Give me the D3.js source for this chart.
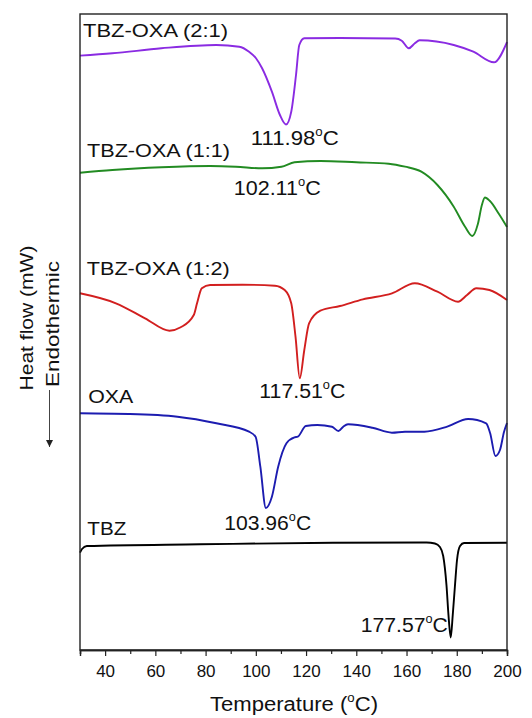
<!DOCTYPE html>
<html><head><meta charset="utf-8">
<script src="https://cdn.jsdelivr.net/npm/d3@7/dist/d3.min.js"></script>
<style>body{margin:0;background:#fff}svg{display:block}text{font-family:"Liberation Sans",Arial,sans-serif;fill:#111}</style>
</head><body><svg id="c" width="532" height="718"></svg>
<script>
// Data: temperature (°C) and heat flow (arbitrary units, stacked offsets)
const seriesNames = ["TBZ-OXA (2:1)", "TBZ-OXA (1:1)", "TBZ-OXA (1:2)", "OXA", "TBZ"];
const peakLabels = ["111.98", "102.11", "117.51", "103.96", "177.57"];
const xTicks = [40, 60, 80, 100, 120, 140, 160, 180, 200];

const tbzOxa21 = [[30,59.44],[42.9,59.67],[62.4,60.17],[84.3,60.5],[93.4,60.33],[97.3,59.83],[100,59.2],[102.5,58.17],[106.4,55.83],[109.6,53.5],[112.0,52.55],[114.1,53.83],[116.0,57.5],[117.3,60.5],[119.3,61.17],[133.5,61.2],[155.5,61.15],[158.1,60.93],[160.9,60.17],[163.3,60.67],[165.2,60.97],[178.8,60.5],[186.6,59.83],[194.8,58.77],[200,60.8]];
const tbzOxa11 = [[30,47.73],[42.9,48.0],[62.4,48.27],[81.8,48.4],[92.1,48.33],[102.5,48.17],[110.2,48.33],[115.4,48.77],[125.7,48.9],[140,48.77],[152.9,48.63],[159.4,48.33],[165.9,47.83],[172.3,46.5],[178.8,44.33],[183.3,42.33],[186.2,41.4],[188.4,42.6],[190,44.5],[191.2,45.25],[193.2,44.9],[196.8,43.6],[200,42.3]];
const tbzOxa12 = [[30,35.67],[44.3,34.67],[55.9,33.17],[65.6,31.93],[70.1,32.27],[75.3,33.5],[76.6,34.67],[78.5,36.17],[81.8,36.5],[94.7,36.53],[107.6,36.43],[111.5,36.0],[114.1,34.67],[115.8,31.33],[117.5,27.17],[119.3,30.0],[121.2,32.67],[125.7,33.93],[133.5,34.4],[142.6,35.07],[154.2,35.67],[163.3,36.67],[172.3,35.83],[180.5,34.83],[184.1,35.5],[187.8,36.17],[193,36.0],[200,35.0]];
const oxa = [[30,23.67],[49.4,23.6],[68.8,23.33],[84.3,22.67],[97.3,21.83],[99.9,21.33],[101.8,18.33],[104.0,14.2],[106.4,15.33],[108.9,18.33],[112.2,20.67],[115.4,21.27],[116.7,21.33],[119.9,22.4],[124.5,22.5],[130.3,22.33],[132.9,21.9],[134.8,22.33],[136.7,22.57],[146.4,22.23],[154.2,21.73],[159.4,21.83],[167.1,21.83],[176.2,22.33],[184.5,23.1],[191.7,22.67],[193.3,21.67],[195.4,19.4],[197.2,20.0],[198.8,21.8],[200,22.7]];
const tbz = [[30,9.73],[30.8,10.1],[32.7,10.4],[77.8,10.57],[130.7,10.73],[168,10.75],[171.3,10.65],[173.3,10.3],[174.6,9.4],[175.9,6.5],[176.7,3.5],[177.6,1.25],[178.4,3.5],[179.3,6.5],[180.1,9.0],[181.3,10.4],[182.9,10.7],[200,10.73]];

const allSeries = [tbzOxa21, tbzOxa11, tbzOxa12, oxa, tbz];
const colors = ["#8a2be2", "#228b22", "#d21f1f", "#1c1cb0", "#000000"];

// Layout (label anchors in data coordinates, rendered widths in px)
const nameAnchors = [[31.2, 61.3], [32.8, 49.3], [32.7, 37.5], [33.3, 24.7], [32.9, 11.5]];
const nameWidths = [145, 143, 143, 45, 39];
const peakAnchors = [[98.0, 50.5], [91.2, 45.5], [101.4, 25.2], [87.4, 12.0], [141.8, 1.85]];
const peakWidths = [88, 87, 86, 87, 87];

const svg = d3.select("#c");
const x = d3.scaleLinear().domain([30, 200]).range([80, 507]);
const y = d3.scaleLinear().domain([0, 63.6]).range([650, 14]);

// Lines
const line = d3.line().x(d => x(d[0])).y(d => y(d[1])).curve(d3.curveMonotoneX);
allSeries.forEach((s, i) => {
  svg.append("path").attr("d", line(s)).attr("fill", "none")
    .attr("stroke", colors[i]).attr("stroke-width", 1.9).attr("stroke-linejoin", "round");
});

// Frame
svg.append("rect").attr("x", x(30)).attr("y", y(63.6)).attr("width", x(200) - x(30)).attr("height", y(0) - y(63.6))
  .attr("fill", "none").attr("stroke", "#222").attr("stroke-width", 1.4);

// X axis
const minorTicks = d3.range(30, 200, 20);
const axis = svg.append("g").attr("transform", `translate(0,${y(0)})`);
axis.call(d3.axisBottom(x).tickValues(xTicks).tickSize(6).tickPadding(9).tickFormat(d3.format("d")));
axis.append("g").call(d3.axisBottom(x).tickValues(minorTicks).tickSize(4).tickFormat(""));
axis.selectAll(".domain").attr("stroke", "#222").attr("stroke-width", 1.4);
axis.selectAll(".tick line").attr("stroke", "#222").attr("stroke-width", 1.2);
axis.selectAll(".tick text").attr("font-size", 17).attr("font-family", "Liberation Sans, Arial, sans-serif").attr("fill", "#111");

// Degree-C helper
function degLabel(sel, num) {
  sel.append("tspan").text(num);
  sel.append("tspan").text("o").attr("font-size", "0.6em").attr("dy", "-0.75em");
  sel.append("tspan").text("C").attr("dy", "0.45em");
}

// Series names
seriesNames.forEach((n, i) => {
  svg.append("text").attr("x", x(nameAnchors[i][0])).attr("y", y(nameAnchors[i][1]))
    .attr("font-size", 19).attr("textLength", nameWidths[i]).attr("lengthAdjust", "spacingAndGlyphs").text(n);
});
// Peak labels
peakLabels.forEach((p, i) => {
  const t = svg.append("text").attr("x", x(peakAnchors[i][0])).attr("y", y(peakAnchors[i][1])).attr("font-size", 20)
    .attr("textLength", peakWidths[i]).attr("lengthAdjust", "spacingAndGlyphs");
  degLabel(t, p);
});

// X axis title
const xt = svg.append("text").attr("x", 294).attr("y", 711).attr("text-anchor", "middle").attr("font-size", 20)
  .attr("textLength", 168).attr("lengthAdjust", "spacingAndGlyphs");
xt.append("tspan").text("Temperature (");
xt.append("tspan").text("o").attr("font-size", "0.6em").attr("dy", "-0.75em");
xt.append("tspan").text("C)").attr("dy", "0.45em");

// Y axis title
svg.append("text").attr("transform", "translate(33,318) rotate(-90)").attr("text-anchor", "middle")
  .attr("font-size", 19).attr("textLength", 145).attr("lengthAdjust", "spacingAndGlyphs").text("Heat flow (mW)");
svg.append("text").attr("transform", "translate(59,324) rotate(-90)").attr("text-anchor", "middle")
  .attr("font-size", 19).attr("textLength", 126).attr("lengthAdjust", "spacingAndGlyphs").text("Endothermic");
svg.append("defs").append("marker").attr("id", "ah").attr("viewBox", "0 0 10 10").attr("refX", 10).attr("refY", 5)
  .attr("markerWidth", 7).attr("markerHeight", 7).attr("orient", "auto")
  .append("path").attr("d", "M0,0L10,5L0,10Z").attr("fill", "#222");
svg.append("line").attr("x1", 49.5).attr("x2", 49.5).attr("y1", 390).attr("y2", 447)
  .attr("stroke", "#444").attr("stroke-width", 1).attr("marker-end", "url(#ah)");
</script></body></html>
